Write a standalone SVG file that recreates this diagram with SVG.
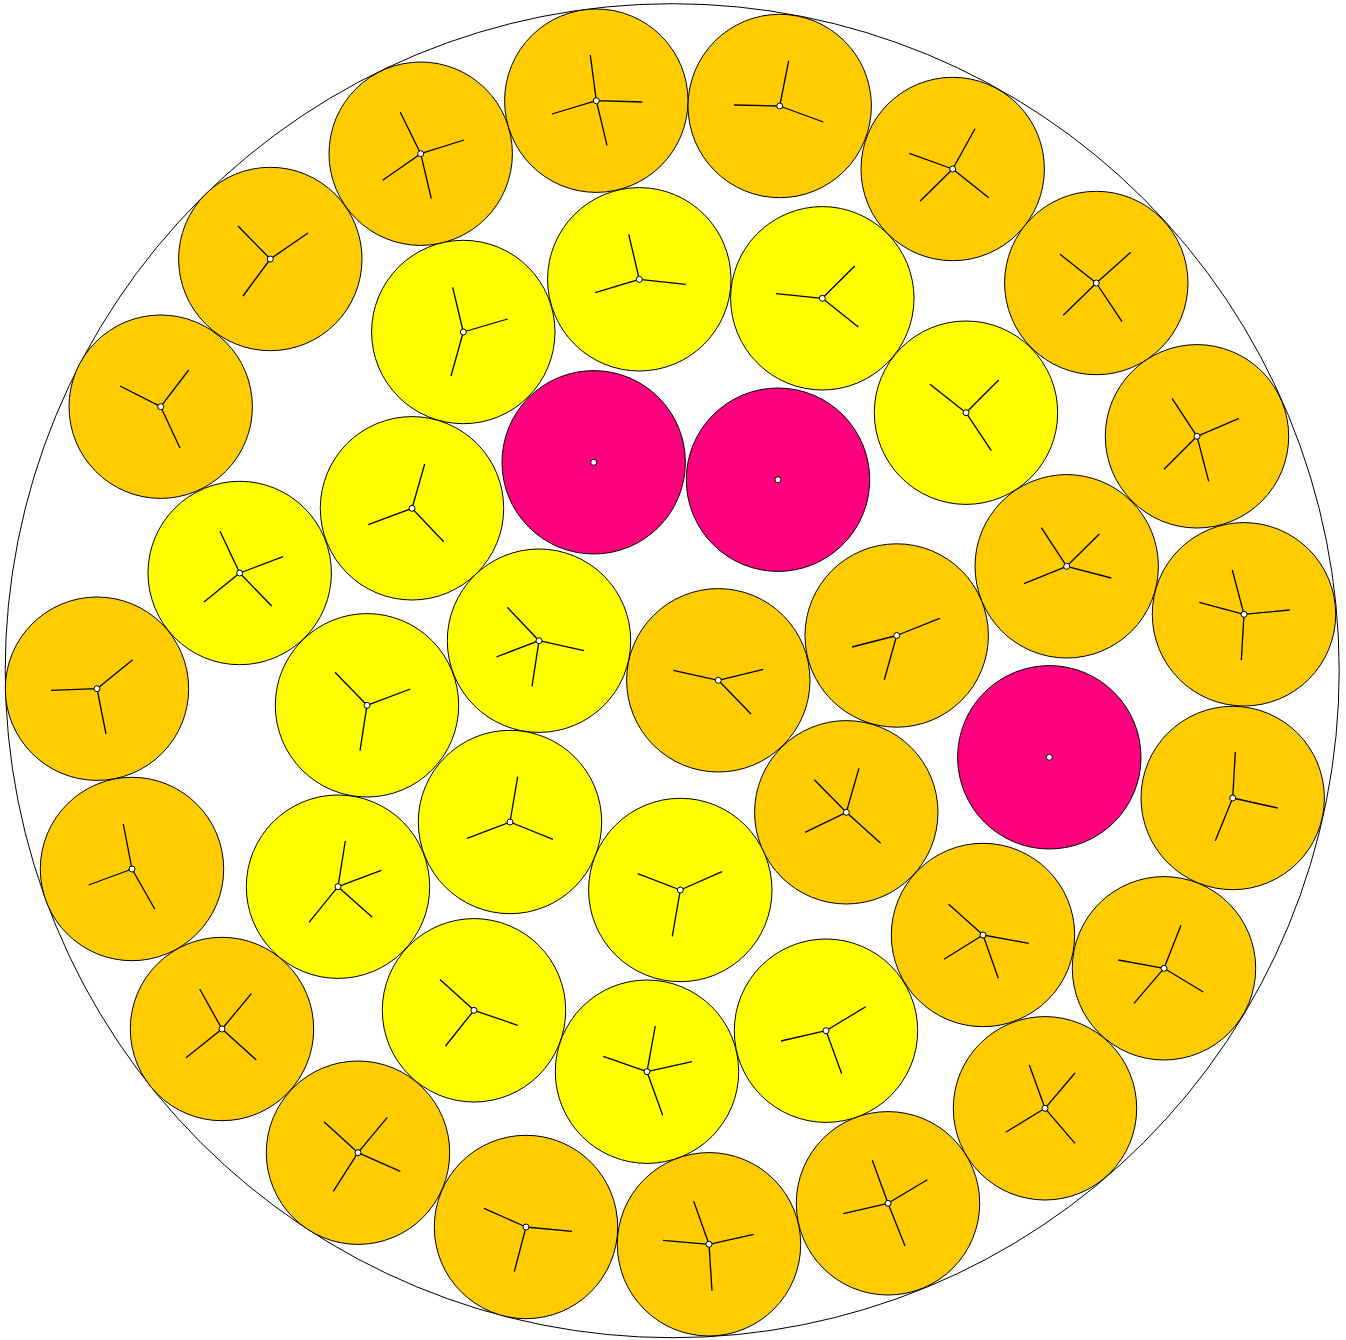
<svg xmlns="http://www.w3.org/2000/svg" width="1346" height="1340" viewBox="0 0 1346 1340">
<style>
.o{fill:#FFCC00;stroke:#000;stroke-width:1}
.y{fill:#FFFF00;stroke:#000;stroke-width:1}
.p{fill:#FF007F;stroke:#000;stroke-width:1}
.s{fill:none;stroke:#000;stroke-width:1.3}
.d{fill:#fff;stroke:#000;stroke-width:1}
.outer{fill:none;stroke:#000;stroke-width:1}
</style>
<rect width="1346" height="1340" fill="#fff"/>
<circle class="outer" cx="672.2" cy="670.7" r="667"/>
<g id="o1"><circle class="o" cx="420.7" cy="153.7" r="91.7"/><path class="s" d="M420.7 153.7L400.3 112.3M420.7 153.7L464 140M420.7 153.7L382.7 180.3M420.7 153.7L431.3 198.7"/><circle class="d" cx="420.7" cy="153.7" r="3"/></g>
<g id="o2"><circle class="o" cx="596.3" cy="100.7" r="91.7"/><path class="s" d="M596.3 100.7L590.3 55M596.3 100.7L642.3 102M596.3 100.7L552 114M596.3 100.7L607 145.3"/><circle class="d" cx="596.3" cy="100.7" r="3"/></g>
<g id="o3"><circle class="o" cx="779.7" cy="106" r="91.7"/><path class="s" d="M779.7 106L788.7 60.7M779.7 106L734 105M779.7 106L823.3 122"/><circle class="d" cx="779.7" cy="106" r="3"/></g>
<g id="o4"><circle class="o" cx="952.7" cy="169" r="91.7"/><path class="s" d="M952.7 169L975 128.7M952.7 169L909.3 153.3M952.7 169L920 201.3M952.7 169L988.7 197.7"/><circle class="d" cx="952.7" cy="169" r="3"/></g>
<g id="o5"><circle class="o" cx="1096.3" cy="283" r="91.7"/><path class="s" d="M1096.3 283L1060 254.3M1096.3 283L1130.7 252.3M1096.3 283L1063.3 315.3M1096.3 283L1122 321.7"/><circle class="d" cx="1096.3" cy="283" r="3"/></g>
<g id="o6"><circle class="o" cx="1197" cy="436.3" r="91.7"/><path class="s" d="M1197 436.3L1172 398.3M1197 436.3L1239 418.3M1197 436.3L1164 469.3M1197 436.3L1208.7 481.3"/><circle class="d" cx="1197" cy="436.3" r="3"/></g>
<g id="o7"><circle class="o" cx="270.3" cy="259" r="91.7"/><path class="s" d="M270.3 259L238 226M270.3 259L308 233M270.3 259L243 296"/><circle class="d" cx="270.3" cy="259" r="3"/></g>
<g id="o8"><circle class="o" cx="160.7" cy="406.7" r="91.7"/><path class="s" d="M160.7 406.7L120 386M160.7 406.7L188.7 370M160.7 406.7L180 448"/><circle class="d" cx="160.7" cy="406.7" r="3"/></g>
<g id="o9"><circle class="o" cx="97" cy="688.7" r="91.7"/><path class="s" d="M97 688.7L132.7 659.7M97 688.7L51 690.3M97 688.7L106 734"/><circle class="d" cx="97" cy="688.7" r="3"/></g>
<g id="o10"><circle class="o" cx="132" cy="869" r="91.7"/><path class="s" d="M132 869L123.3 824M132 869L88.7 885M132 869L154.7 909"/><circle class="d" cx="132" cy="869" r="3"/></g>
<g id="o11"><circle class="o" cx="222" cy="1029" r="91.7"/><path class="s" d="M222 1029L199.7 989M222 1029L251.3 993.7M222 1029L186 1057.7M222 1029L256.3 1060"/><circle class="d" cx="222" cy="1029" r="3"/></g>
<g id="o12"><circle class="o" cx="358" cy="1152.7" r="91.7"/><path class="s" d="M358 1152.7L324 1121.7M358 1152.7L387.3 1117.3M358 1152.7L333.3 1191.3M358 1152.7L400.3 1171.3"/><circle class="d" cx="358" cy="1152.7" r="3"/></g>
<g id="o13"><circle class="o" cx="526" cy="1227" r="91.7"/><path class="s" d="M526 1227L484 1208.3M526 1227L572 1231.3M526 1227L514.3 1271.7"/><circle class="d" cx="526" cy="1227" r="3"/></g>
<g id="o14"><circle class="o" cx="709" cy="1244.3" r="91.7"/><path class="s" d="M709 1244.3L693.7 1201.3M709 1244.3L753.7 1234.3M709 1244.3L663 1240.3M709 1244.3L712 1290.7"/><circle class="d" cx="709" cy="1244.3" r="3"/></g>
<g id="o15"><circle class="o" cx="888" cy="1203.3" r="91.7"/><path class="s" d="M888 1203.3L872.3 1160.3M888 1203.3L843.3 1213.7M888 1203.3L927.3 1179.7M888 1203.3L905 1246"/><circle class="d" cx="888" cy="1203.3" r="3"/></g>
<g id="o16"><circle class="o" cx="1045" cy="1108.3" r="91.7"/><path class="s" d="M1045 1108.3L1029.3 1065M1045 1108.3L1075 1073M1045 1108.3L1005.7 1132.3M1045 1108.3L1075 1143.3"/><circle class="d" cx="1045" cy="1108.3" r="3"/></g>
<g id="o17"><circle class="o" cx="1164" cy="968.3" r="91.7"/><path class="s" d="M1164 968.3L1181 925.3M1164 968.3L1118.3 960M1164 968.3L1203.3 992M1164 968.3L1134 1003.3"/><circle class="d" cx="1164" cy="968.3" r="3"/></g>
<g id="o18"><circle class="o" cx="983" cy="935" r="91.7"/><path class="s" d="M983 935L948.7 904.3M983 935L1028.7 943.3M983 935L944 959.3M983 935L998.3 978.3"/><circle class="d" cx="983" cy="935" r="3"/></g>
<g id="o19"><circle class="o" cx="846.3" cy="812.3" r="91.7"/><path class="s" d="M846.3 812.3L859 768.3M846.3 812.3L814.3 779.7M846.3 812.3L805 832.3M846.3 812.3L880.7 843.3"/><circle class="d" cx="846.3" cy="812.3" r="3"/></g>
<g id="o20"><circle class="o" cx="718.3" cy="680.3" r="91.7"/><path class="s" d="M718.3 680.3L673.3 670.3M718.3 680.3L763.3 669.3M718.3 680.3L751 714"/><circle class="d" cx="718.3" cy="680.3" r="3"/></g>
<g id="o21"><circle class="o" cx="896.7" cy="635.5" r="91.7"/><path class="s" d="M896.7 635.5L852 647M896.7 635.5L884.3 679.7M896.7 635.5L939.7 618.3"/><circle class="d" cx="896.7" cy="635.5" r="3"/></g>
<g id="o22"><circle class="o" cx="1066.7" cy="566.3" r="91.7"/><path class="s" d="M1066.7 566.3L1041.3 527.7M1066.7 566.3L1099.3 534M1066.7 566.3L1024 583.7M1066.7 566.3L1111.3 578"/><circle class="d" cx="1066.7" cy="566.3" r="3"/></g>
<g id="o23"><circle class="o" cx="1244" cy="614.3" r="91.7"/><path class="s" d="M1244 614.3L1232.3 570M1244 614.3L1199.3 602.3M1244 614.3L1289.7 610M1244 614.3L1241.3 660.3"/><circle class="d" cx="1244" cy="614.3" r="3"/></g>
<g id="o24"><circle class="o" cx="1232.7" cy="798" r="91.7"/><path class="s" d="M1232.7 798L1235.3 752M1232.7 798L1277.7 808M1232.7 798L1215.3 840.7"/><circle class="d" cx="1232.7" cy="798" r="3"/></g>
<g id="y1"><circle class="y" cx="463.3" cy="332" r="91.7"/><path class="s" d="M463.3 332L452.7 287.3M463.3 332L507.7 319M463.3 332L451 376"/><circle class="d" cx="463.3" cy="332" r="3"/></g>
<g id="y2"><circle class="y" cx="639.3" cy="279.3" r="91.7"/><path class="s" d="M639.3 279.3L628.7 234.3M639.3 279.3L685.7 284.3M639.3 279.3L595.3 292.7"/><circle class="d" cx="639.3" cy="279.3" r="3"/></g>
<g id="y3"><circle class="y" cx="822.3" cy="298.3" r="91.7"/><path class="s" d="M822.3 298.3L854.7 266M822.3 298.3L776 293.7M822.3 298.3L858.3 327"/><circle class="d" cx="822.3" cy="298.3" r="3"/></g>
<g id="y4"><circle class="y" cx="966" cy="412.7" r="91.7"/><path class="s" d="M966 412.7L930 384.3M966 412.7L998.7 380M966 412.7L991.3 450.7"/><circle class="d" cx="966" cy="412.7" r="3"/></g>
<g id="y5"><circle class="y" cx="412" cy="508.3" r="91.7"/><path class="s" d="M412 508.3L424.7 464M412 508.3L368.3 524.7M412 508.3L443.7 541.7"/><circle class="d" cx="412" cy="508.3" r="3"/></g>
<g id="y6"><circle class="y" cx="239.7" cy="573" r="91.7"/><path class="s" d="M239.7 573L220 531.3M239.7 573L283 556.7M239.7 573L204 602M239.7 573L271.7 606"/><circle class="d" cx="239.7" cy="573" r="3"/></g>
<g id="y7"><circle class="y" cx="539" cy="640.7" r="91.7"/><path class="s" d="M539 640.7L507.3 607.3M539 640.7L584 650.7M539 640.7L496.3 657M539 640.7L532 686.3"/><circle class="d" cx="539" cy="640.7" r="3"/></g>
<g id="y8"><circle class="y" cx="367" cy="705.3" r="91.7"/><path class="s" d="M367 705.3L335 672.3M367 705.3L410.3 689M367 705.3L360 750.7"/><circle class="d" cx="367" cy="705.3" r="3"/></g>
<g id="y9"><circle class="y" cx="510" cy="822" r="91.7"/><path class="s" d="M510 822L517.7 776.7M510 822L467 838.3M510 822L553 839.3"/><circle class="d" cx="510" cy="822" r="3"/></g>
<g id="y10"><circle class="y" cx="338" cy="886.7" r="91.7"/><path class="s" d="M338 886.7L345.3 841M338 886.7L381.3 870.3M338 886.7L309 922.3M338 886.7L372.3 917.3"/><circle class="d" cx="338" cy="886.7" r="3"/></g>
<g id="y11"><circle class="y" cx="474" cy="1010.3" r="91.7"/><path class="s" d="M474 1010.3L440 979.5M474 1010.3L517.7 1025.3M474 1010.3L445.5 1046"/><circle class="d" cx="474" cy="1010.3" r="3"/></g>
<g id="y12"><circle class="y" cx="680.3" cy="890" r="91.7"/><path class="s" d="M680.3 890L637.7 873.7M680.3 890L722 871.7M680.3 890L672.3 936.3"/><circle class="d" cx="680.3" cy="890" r="3"/></g>
<g id="y13"><circle class="y" cx="647" cy="1071.7" r="91.7"/><path class="s" d="M647 1071.7L655.3 1026M647 1071.7L603.3 1056.3M647 1071.7L692 1061.7M647 1071.7L662.7 1115.3"/><circle class="d" cx="647" cy="1071.7" r="3"/></g>
<g id="y14"><circle class="y" cx="826" cy="1030.7" r="91.7"/><path class="s" d="M826 1030.7L865.7 1006.7M826 1030.7L781 1041M826 1030.7L841.7 1073.7"/><circle class="d" cx="826" cy="1030.7" r="3"/></g>
<g id="p1"><circle class="p" cx="593.7" cy="462.3" r="91.7"/><circle class="d" cx="593.7" cy="462.3" r="3"/></g>
<g id="p2"><circle class="p" cx="778" cy="479.7" r="91.7"/><circle class="d" cx="778" cy="479.7" r="3"/></g>
<g id="p3"><circle class="p" cx="1049.3" cy="757.3" r="91.7"/><circle class="d" cx="1049.3" cy="757.3" r="3"/></g>
</svg>
